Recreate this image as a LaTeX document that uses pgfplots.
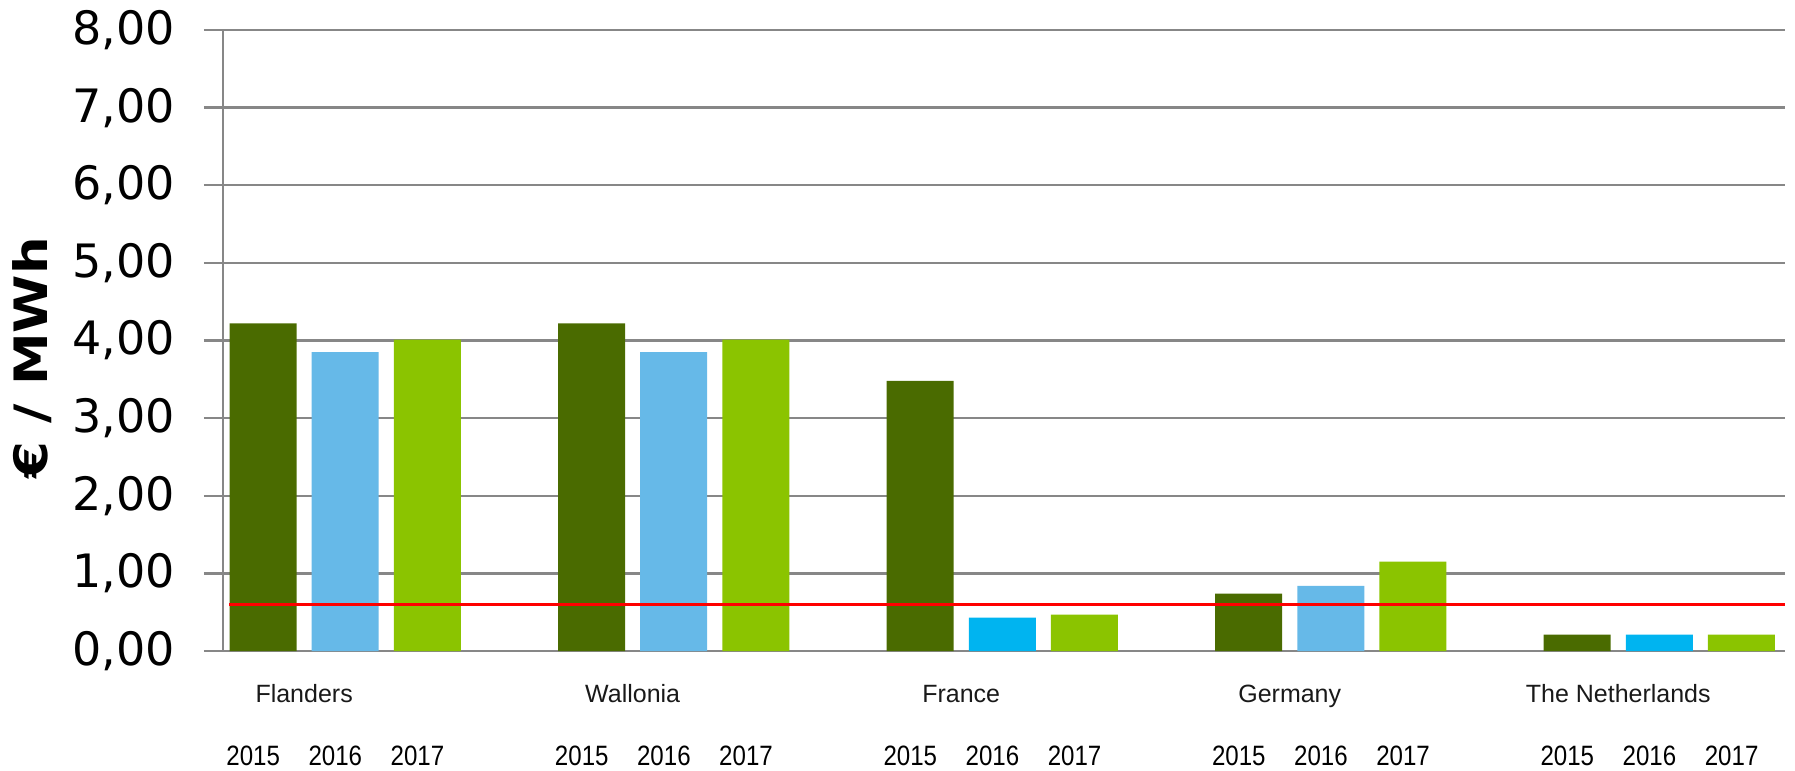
\documentclass[border=0pt]{standalone}
\usepackage{pgfplots}
\pgfplotsset{compat=1.18}
\usepackage{fontspec}
\setmainfont{Liberation Sans}
\newfontfamily\tickfont{DejaVu Sans}
\newfontfamily\labfont[FakeStretch=1.15]{DejaVu Sans}
\newfontfamily\yearfont[FakeStretch=0.86]{Liberation Sans}
\definecolor{dgreen}{HTML}{4A6B00}
\definecolor{lblue}{HTML}{66B9E8}
\definecolor{bblue}{HTML}{00B4F0}
\definecolor{lime}{HTML}{8BC400}
\definecolor{gridgray}{HTML}{878787}
\begin{document}
\begin{tikzpicture}
\begin{axis}[
  scale only axis, width=1581bp, height=621bp,
  xmin=-0.72, xmax=18.53, ymin=0, ymax=8,
  axis line style={draw=none},
  major tick length=0pt,
  ymajorgrids, grid style={gridgray, line width=2.3bp},
  ytick={0,1,2,3,4,5,6,7,8},
  yticklabels={{0,00},{1,00},{2,00},{3,00},{4,00},{5,00},{6,00},{7,00},{8,00}},
  yticklabel style={font=\tickfont\fontsize{46bp}{50bp}\selectfont, anchor=east, inner sep=0pt, xshift=-29bp, text=black},
  xtick={-0.12,0.88,1.88,3.88,4.88,5.88,7.88,8.88,9.88,11.88,12.88,13.88,15.88,16.88,17.88},
  xticklabels={2015,2016,2017,2015,2016,2017,2015,2016,2017,2015,2016,2017,2015,2016,2017},
  xticklabel style={font=\yearfont\fontsize{28bp}{30bp}\selectfont, anchor=base, inner sep=0pt, yshift=-114bp, text=black},
  extra x ticks={0.5,4.5,8.5,12.5,16.5},
  extra x tick labels={Flanders,Wallonia,France,Germany,The Netherlands},
  extra x tick style={xticklabel style={font=\fontsize{25bp}{28bp}\selectfont, yshift=63bp, text=black!90}},
  ylabel={€ / MWh},
  every axis y label/.style={at={(axis description cs:-0.1088,0.472)}, rotate=90, anchor=center,
    font=\labfont\bfseries\fontsize{46bp}{50bp}\selectfont},
  clip=false,
]
\addplot[ybar, bar width=67bp, bar shift=0pt, fill=dgreen, draw=none] coordinates {(0,4.22) (4,4.22) (8,3.48) (12,0.74) (16,0.21)};
\addplot[ybar, bar width=67bp, bar shift=0pt, fill=lblue, draw=none] coordinates {(1,3.85) (5,3.85) (13,0.84)};
\addplot[ybar, bar width=67bp, bar shift=0pt, fill=bblue, draw=none] coordinates {(9,0.43) (17,0.21)};
\addplot[ybar, bar width=67bp, bar shift=0pt, fill=lime, draw=none] coordinates {(2,4.01) (6,4.01) (10,0.47) (14,1.15) (18,0.21)};
\addplot[red, line width=3.5bp, no markers] coordinates {(-0.41,0.6) (18.53,0.6)};
\draw[gridgray, line width=2.3bp] (axis cs:-0.489,0) -- (axis cs:-0.489,8);
\path (axis description cs:-0.129,1.0483) rectangle (axis description cs:1.00633,-0.1932);
\end{axis}
\end{tikzpicture}
\end{document}
